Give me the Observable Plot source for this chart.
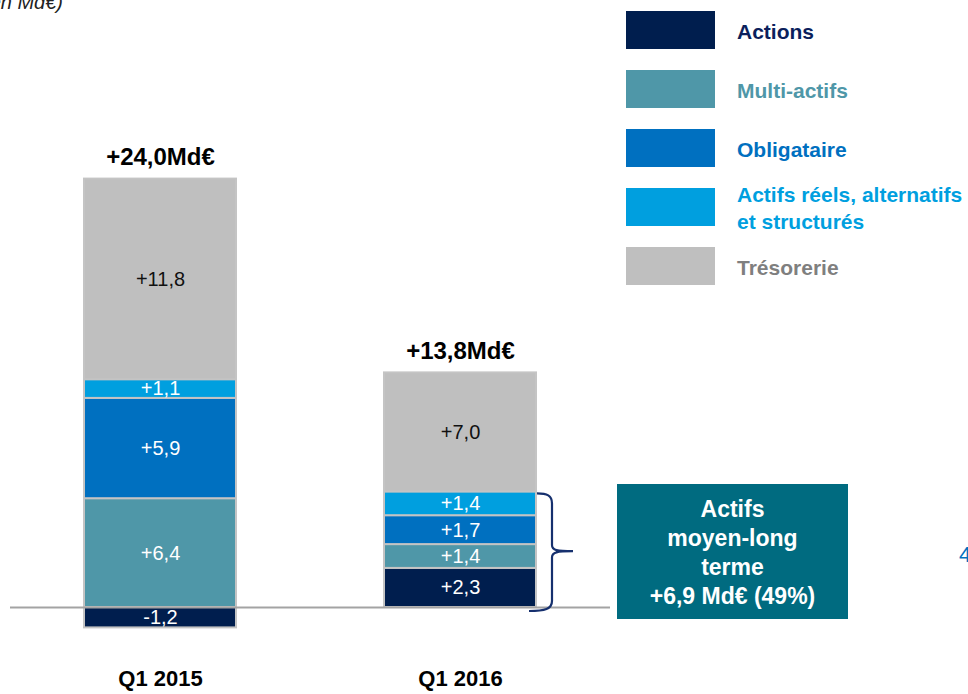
<!DOCTYPE html>
<html>
<head>
<meta charset="utf-8">
<script src="https://cdn.jsdelivr.net/npm/d3@7"></script>
<script src="https://cdn.jsdelivr.net/npm/@observablehq/plot@0.6"></script>
<style>
  body { margin: 0; background: #fff; font-family: Arial, "Liberation Sans", sans-serif; }
  #wrap { position: relative; width: 968px; height: 694px; overflow: hidden; background: #fff; }
  #wrap svg { position: absolute; left: 0; top: 0; }
  .unit { position: absolute; left: -40px; top: -8px; width: 103px; text-align: right; font-style: italic; font-size: 20px; line-height: 20px; color: #222; white-space: nowrap; }
  .edge { position: absolute; left: 959px; top: 544px; font-size: 22px; line-height: 22px; color: #0070c0; white-space: nowrap; }
  .legend-row { position: absolute; left: 626px; }
  .legend-swatch { position: absolute; left: 0; top: 0; width: 89px; height: 38px; }
  .legend-text { position: absolute; left: 111px; font-weight: bold; font-size: 21px; line-height: 27px; white-space: pre; }
  .note { position: absolute; left: 617px; top: 484px; width: 231px; height: 135px; background: #006b80; color: #fff; font-weight: bold; font-size: 23px; line-height: 29px; text-align: center; box-sizing: border-box; padding-top: 11px; }
</style>
</head>
<body>
<div id="wrap"></div>
<script>
// ---------- data ----------
const categories = ["Q1 2015", "Q1 2016"];
const seriesNames = ["Actions", "Multi-actifs", "Obligataire", "Actifs réels, alternatifs et structurés", "Trésorerie"];
const legendLabels = ["Actions", "Multi-actifs", "Obligataire", "Actifs réels, alternatifs\net structurés", "Trésorerie"];
const valuesQ1_2015 = [-1.2, 6.4, 5.9, 1.1, 11.8];
const valuesQ1_2016 = [2.3, 1.4, 1.7, 1.4, 7.0];
const totalLabels = ["+24,0Md€", "+13,8Md€"];
const longTermSeries = ["Actions", "Multi-actifs", "Obligataire", "Actifs réels, alternatifs et structurés"];
const annotationLines = ["Actifs", "moyen-long", "terme", "+6,9 Md€ (49%)"];
const unitLabel = "(en Md€)";
const edgeLabel = "4";

// ---------- styles ----------
const fillColors = ["#001e4e", "#4f97a8", "#0070c0", "#009fdf", "#bfbfbf"];
const legendTextColors = ["#0b1f5c", "#4f97a8", "#0070c0", "#009fdf", "#7f7f7f"];
const darkLabelSeries = ["Trésorerie"];
const barInset = 74;

// ---------- build stacked rows ----------
const valuesByCategory = [valuesQ1_2015, valuesQ1_2016];
const fmt = v => (v < 0 ? "-" : "+") + Math.abs(v).toFixed(1).replace(".", ",");
const rows = [];
const totals = [];
categories.forEach((cat, ci) => {
  let pos = 0, neg = 0;
  seriesNames.forEach((s, si) => {
    const v = valuesByCategory[ci][si];
    let y1, y2;
    if (v >= 0) { y1 = pos; y2 = pos + v; pos += v; }
    else { y1 = neg; y2 = neg + v; neg += v; }
    rows.push({category: cat, series: s, value: v, y1, y2, label: fmt(v)});
  });
  totals.push({category: cat, top: pos, label: totalLabels[ci]});
});

const longTermTotal = d3.sum(longTermSeries.map(s => valuesQ1_2016[seriesNames.indexOf(s)]));

const braceMark = (index, scales) => {
  const x = scales.x, y = scales.y;
  const bw = typeof x.bandwidth === "function" ? x.bandwidth() : 0;
  const xr = x(categories[1]) + bw - barInset + 1;
  const yt = y(longTermTotal) + 2;
  const yb = y(0) + 2;
  const ym = (yt + yb) / 2;
  const p = d3.path();
  p.moveTo(xr, yt);
  p.bezierCurveTo(xr + 10, yt, xr + 15, yt + 2, xr + 15, yt + 10);
  p.lineTo(xr + 15, ym - 6);
  p.bezierCurveTo(xr + 15, ym - 1, xr + 20, ym, xr + 36, ym);
  p.bezierCurveTo(xr + 20, ym, xr + 15, ym + 1, xr + 15, ym + 6);
  p.lineTo(xr + 15, yb - 8);
  p.bezierCurveTo(xr + 15, yb, xr + 8, yb + 2, xr - 8, yb + 2);
  return d3.create("svg:path")
    .attr("d", p.toString())
    .attr("fill", "none")
    .attr("stroke", "#16306e")
    .attr("stroke-width", 2.2)
    .node();
};

const plot = Plot.plot({
  width: 968,
  height: 694,
  marginLeft: 10,
  marginRight: 358,
  marginTop: 0,
  marginBottom: 0,
  x: {domain: categories, padding: 0, axis: null},
  y: {domain: [0, 10], range: [607, 437], axis: null},
  color: {domain: seriesNames, range: fillColors},
  style: {fontFamily: "Arial, 'Liberation Sans', sans-serif", background: "transparent", overflow: "visible"},
  marks: [
    Plot.barY(rows, {x: "category", y1: "y1", y2: "y2", fill: "series", stroke: "#c4c4c4", strokeWidth: 2, insetLeft: barInset, insetRight: barInset}),
    Plot.ruleY([0], {stroke: "#a3a3a3", strokeWidth: 2}),
    Plot.text(rows.filter(d => !darkLabelSeries.includes(d.series)), {x: "category", y: d => (d.y1 + d.y2) / 2, text: "label", fill: "#ffffff", fontSize: 20}),
    Plot.text(rows.filter(d => darkLabelSeries.includes(d.series)), {x: "category", y: d => (d.y1 + d.y2) / 2, text: "label", fill: "#111111", fontSize: 20}),
    Plot.text(totals, {x: "category", y: "top", text: "label", dy: -22, fill: "#000", fontSize: 24, fontWeight: "bold"}),
    Plot.text(categories, {x: d => d, frameAnchor: "bottom", dy: -9, text: d => d, fill: "#000", fontSize: 22, fontWeight: "bold"}),
    braceMark
  ]
});

const wrap = document.getElementById("wrap");
wrap.appendChild(plot);

// unit label (cropped at top-left, as in the reference)
const unit = document.createElement("div");
unit.className = "unit";
unit.textContent = unitLabel;
wrap.appendChild(unit);

// cropped text at right edge
const edge = document.createElement("div");
edge.className = "edge";
edge.textContent = edgeLabel;
wrap.appendChild(edge);

// legend
const rowTops = [11, 70, 129, 188, 247];
legendLabels.forEach((lab, i) => {
  const r = document.createElement("div");
  r.className = "legend-row";
  r.style.top = rowTops[i] + "px";
  const sw = document.createElement("div");
  sw.className = "legend-swatch";
  sw.style.background = fillColors[i];
  const tx = document.createElement("div");
  tx.className = "legend-text";
  tx.style.color = legendTextColors[i];
  const lines = lab.split("\n").length;
  tx.style.top = (20 - lines * 27 / 2) + "px";
  tx.textContent = lab;
  r.appendChild(sw);
  r.appendChild(tx);
  wrap.appendChild(r);
});

// annotation box
const note = document.createElement("div");
note.className = "note";
note.innerHTML = annotationLines.map(l => l.replace(/&/g, "&amp;").replace(/</g, "&lt;")).join("<br>");
wrap.appendChild(note);
</script>
</body>
</html>
